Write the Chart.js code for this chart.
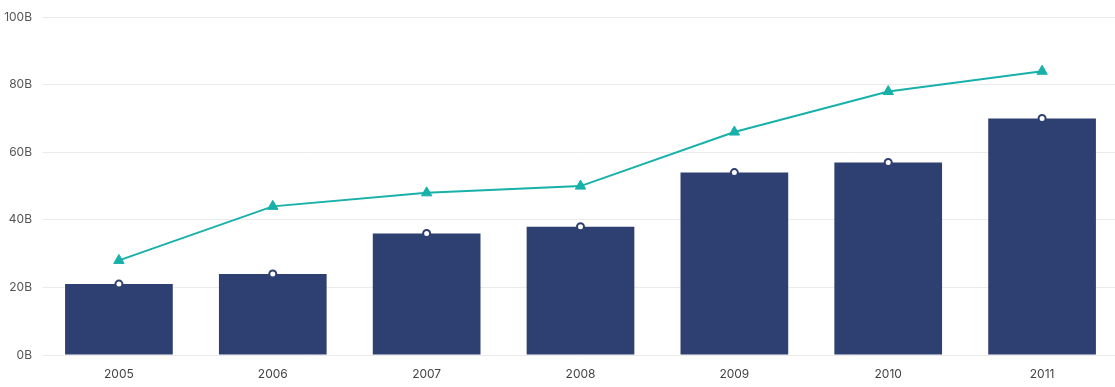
<!DOCTYPE html>
<html>
<head>
<meta charset="utf-8">
<script src="https://cdn.jsdelivr.net/npm/chart.js@4/dist/chart.umd.min.js"></script>
<style>
html,body{margin:0;padding:0;background:#fff;overflow:hidden;width:1115px;height:387px;}
canvas{display:block;}
</style>
</head>
<body>
<canvas id="c" width="1119" height="387" style="width:1119px;height:387px;"></canvas>
<script>
const categories = ['2005','2006','2007','2008','2009','2010','2011'];
const barValues = [21, 24, 36, 38, 54, 57, 70];
const lineValues = [28, 44, 48, 50, 66, 78, 84];
const yTicks = [0, 20, 40, 60, 80, 100];

const navy = '#2e4071';
const teal = '#17b1aa';

new Chart(document.getElementById('c'), {
  type: 'bar',
  data: {
    labels: categories,
    datasets: [
      {
        type: 'line',
        data: lineValues,
        borderColor: teal,
        borderWidth: 2,
        backgroundColor: teal,
        pointStyle: 'triangle',
        pointRadius: 6,
        pointBackgroundColor: teal,
        pointBorderColor: teal,
        pointBorderWidth: 1,
        tension: 0,
        order: 1
      },
      {
        type: 'line',
        data: barValues,
        showLine: false,
        pointStyle: 'circle',
        pointRadius: 3.5,
        pointBackgroundColor: '#ffffff',
        pointBorderColor: navy,
        pointBorderWidth: 2,
        order: 2
      },
      {
        type: 'bar',
        data: barValues,
        backgroundColor: navy,
        borderWidth: 0,
        categoryPercentage: 1,
        barPercentage: 0.7,
        order: 3
      }
    ]
  },
  options: {
    responsive: false,
    animation: false,
    layout: { autoPadding: false, padding: { top: 16, right: 0, bottom: 0, left: 0 } },
    plugins: { legend: { display: false }, tooltip: { enabled: false } },
    scales: {
      x: {
        grid: { display: false, drawTicks: false },
        border: { display: false },
        ticks: { color: '#444', font: { family: 'Inter', size: 12 }, padding: 12, maxRotation: 0 },
        afterFit: (axis) => { axis.height = 32; }
      },
      y: {
        min: 0,
        max: 100,
        afterBuildTicks: (axis) => { axis.ticks = yTicks.map(v => ({ value: v })); },
        grid: { color: '#ebebeb', drawTicks: false, lineWidth: 1 },
        border: { display: false },
        ticks: {
          color: '#555',
          font: { family: 'Inter', size: 12 },
          padding: 10,
          callback: (v) => v + 'B'
        },
        afterFit: (axis) => { axis.width = 42; }
      }
    }
  }
});
</script>
</body>
</html>
